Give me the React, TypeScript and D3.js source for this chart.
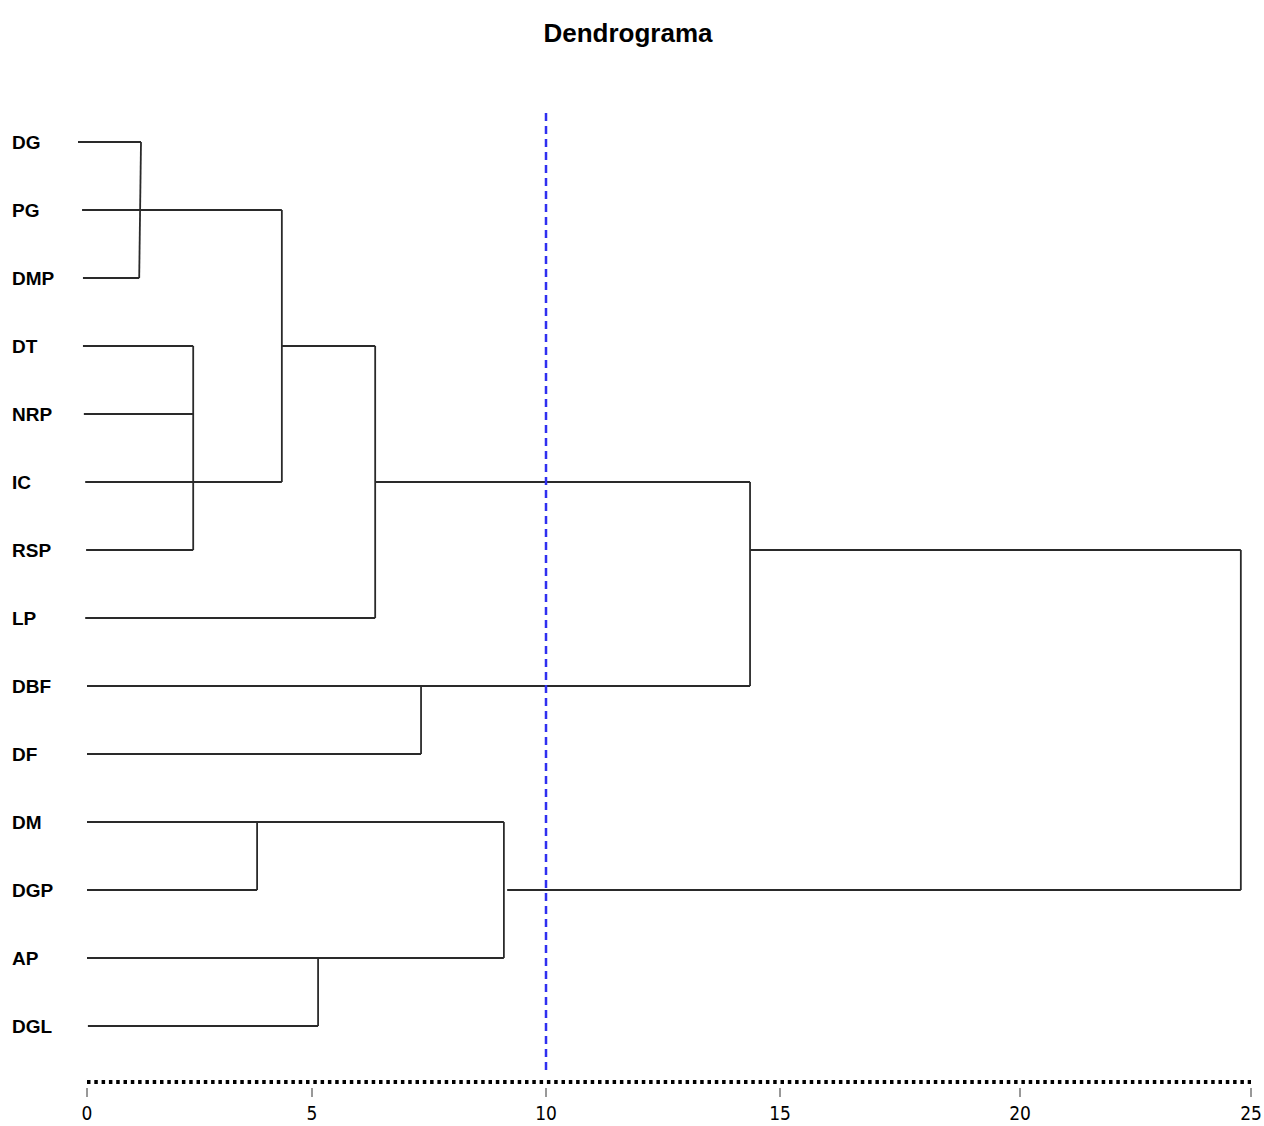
import React from 'react';
import * as d3 from 'd3';

// leaves, top to bottom
const leaves = ['DG', 'PG', 'DMP', 'DT', 'NRP', 'IC', 'RSP', 'LP', 'DBF', 'DF', 'DM', 'DGP', 'AP', 'DGL'];
// where each leaf line starts / ends (distance units)
const leafStart = [-0.2, -0.11, -0.09, -0.09, -0.07, -0.04, -0.02, -0.04, 0, 0, 0, 0, 0, 0.02];
const leafEnd = [1.2, 4.33, 1.16, 2.36, 2.36, 4.33, 2.36, 6.35, 14.36, 7.33, 9.1, 3.78, 9.1, 5.13];

// vertical joins: x at top, x at bottom, from leaf row to leaf row
const joins = [
  {x: 1.2, x2: 1.16, top: 'DG', bottom: 'DMP'},
  {x: 2.36, x2: 2.36, top: 'DT', bottom: 'RSP'},
  {x: 4.33, x2: 4.33, top: 'PG', bottom: 'IC'},
  {x: 6.35, x2: 6.35, top: 'DT', bottom: 'LP'},
  {x: 14.36, x2: 14.36, top: 'IC', bottom: 'DBF'},
  {x: 24.78, x2: 24.78, top: 'RSP', bottom: 'DGP'},
  {x: 7.33, x2: 7.33, top: 'DBF', bottom: 'DF'},
  {x: 3.78, x2: 3.78, top: 'DM', bottom: 'DGP'},
  {x: 5.13, x2: 5.13, top: 'AP', bottom: 'DGL'},
  {x: 9.1, x2: 9.1, top: 'DM', bottom: 'AP'},
];

// horizontal connectors between joins
const links = [
  {row: 'DT', x0: 4.33, x1: 6.35},
  {row: 'IC', x0: 6.35, x1: 14.36},
  {row: 'RSP', x0: 14.36, x1: 24.78},
  {row: 'DGP', x0: 9.17, x1: 24.78},
];

const ticks = [0, 5, 10, 15, 20, 25];
const cutoff = 10;

export default function App() {
  const width = 1264;
  const height = 1126;

  // the original axis is not perfectly linear, so piecewise
  const x = d3.scaleLinear()
    .domain([0, 5, 10, 15, 20, 25])
    .range([87, 312, 546, 780, 1020, 1251]);

  const y = d3.scalePoint<string>()
    .domain(leaves)
    .range([142, 1026]);

  const axisY = 1082;
  const lineColor = '#2a2a2a';

  return (
    <div style={{position: 'absolute', left: 0, top: 0}}>
      <svg width={width} height={height} style={{display: 'block', background: '#fff'}}>
        <text x={628} y={42} textAnchor="middle"
          style={{fontFamily: '"Liberation Sans", Arial, sans-serif', fontWeight: 'bold', fontSize: 26}}>
          Dendrograma
        </text>

        {leaves.map((d, i) => (
          <g key={d}>
            <text x={12} y={(y(d) as number) + 7}
              style={{fontFamily: '"Liberation Sans", Arial, sans-serif', fontWeight: 'bold', fontSize: 19}}>
              {d}
            </text>
            <line x1={x(leafStart[i])} x2={x(leafEnd[i])} y1={y(d)} y2={y(d)}
              stroke={lineColor} strokeWidth={1.8} />
          </g>
        ))}

        {joins.map((j, i) => (
          <line key={'j' + i} x1={x(j.x)} x2={x(j.x2)} y1={y(j.top)} y2={y(j.bottom)}
            stroke={lineColor} strokeWidth={1.8} />
        ))}

        {links.map((l, i) => (
          <line key={'l' + i} x1={x(l.x0)} x2={x(l.x1)} y1={y(l.row)} y2={y(l.row)}
            stroke={lineColor} strokeWidth={1.8} />
        ))}

        <line x1={x(cutoff)} x2={x(cutoff)} y1={113} y2={1074}
          stroke="#2f2ff0" strokeWidth={2.5} strokeDasharray="8,5" />

        <line x1={x(0)} x2={x(25)} y1={axisY} y2={axisY}
          stroke="#000" strokeWidth={4} strokeDasharray="3.5,3.8" />
        {ticks.map(t => (
          <g key={t}>
            <line x1={x(t)} x2={x(t)} y1={axisY + 6} y2={axisY + 15} stroke="#333" strokeWidth={1} />
            <text x={x(t)} y={axisY + 38} textAnchor="middle"
              style={{fontFamily: '"Liberation Sans Narrow", "DejaVu Sans Condensed", Arial, sans-serif', fontSize: 19}}>
              {t}
            </text>
          </g>
        ))}
      </svg>
    </div>
  );
}
